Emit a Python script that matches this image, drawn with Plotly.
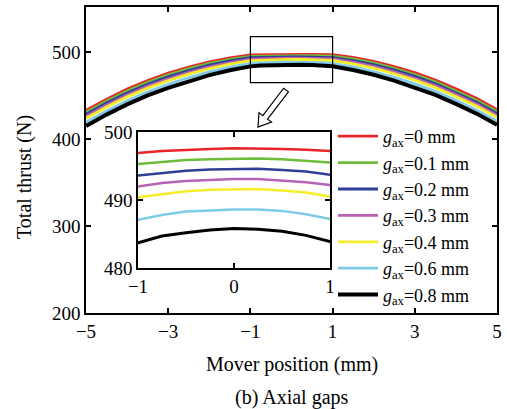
import plotly.graph_objects as go

# ---------------- data ----------------
positions = [-5, -4.5, -4, -3.5, -3, -2.5, -2, -1.5, -1, -0.75, -0.5, -0.25, 0,
             0.25, 0.5, 0.75, 1, 1.5, 2, 2.5, 3, 3.5, 4, 4.5, 5]

gap_0mm = [433.0, 446.0, 457.5, 467.5, 476.0, 483.0, 489.0, 493.6, 496.9, 497.2, 497.4, 497.5, 497.6,
           497.6, 497.5, 497.4, 497.2, 494.0, 489.5, 483.5, 476.5, 468.0, 458.0, 447.0, 434.0]
gap_01mm = [430.8, 443.8, 455.3, 465.4, 473.9, 481.0, 487.1, 491.8, 495.3, 495.6, 495.9, 496.0, 496.1,
            496.1, 496.0, 495.8, 495.5, 492.2, 487.6, 481.5, 474.4, 465.9, 455.8, 444.8, 431.8]
gap_02mm = [428.4, 441.5, 453.0, 463.1, 471.7, 478.9, 485.1, 489.9, 493.6, 494.0, 494.3, 494.5, 494.6,
            494.6, 494.4, 494.2, 493.7, 490.3, 485.6, 479.4, 472.2, 463.6, 453.5, 442.5, 429.5]
gap_03mm = [426.2, 439.2, 450.8, 461.0, 469.5, 476.8, 483.1, 488.1, 492.0, 492.5, 492.8, 493.0, 493.1,
            493.1, 492.9, 492.6, 492.2, 488.5, 483.6, 477.3, 470.0, 461.5, 451.3, 440.3, 427.3]
gap_04mm = [423.8, 436.9, 448.6, 458.7, 467.3, 474.7, 481.1, 486.3, 490.4, 490.9, 491.3, 491.5, 491.6,
            491.6, 491.4, 491.1, 490.5, 486.7, 481.6, 475.2, 467.8, 459.2, 449.1, 438.0, 425.1]
gap_06mm = [419.3, 432.5, 444.2, 454.4, 463.1, 470.7, 477.3, 482.7, 487.1, 487.8, 488.3, 488.5, 488.6,
            488.6, 488.4, 487.9, 487.2, 483.1, 477.8, 471.2, 463.6, 454.9, 444.7, 433.6, 420.7]
gap_08mm = [415.0, 428.2, 440.0, 450.3, 459.0, 466.8, 473.6, 479.2, 483.7, 484.7, 485.2, 485.6, 485.8,
            485.7, 485.4, 484.8, 483.9, 479.6, 474.1, 467.3, 459.5, 450.8, 440.5, 429.4, 416.5]

series_labels = ["0", "0.1", "0.2", "0.3", "0.4", "0.6", "0.8"]
series_values = [gap_0mm, gap_01mm, gap_02mm, gap_03mm, gap_04mm, gap_06mm, gap_08mm]
series_colors = ["#e8262a", "#6dbd3b", "#2e3f96", "#b862b3", "#f6ee2a", "#7fcbe8", "#000000"]
series_widths = [2.8, 2.8, 2.8, 2.8, 2.8, 2.8, 4]

main_xticks = [-5, -3, -1, 1, 3, 5]
main_yticks = [200, 300, 400, 500]
inset_xticks = [-1, 0, 1]
inset_yticks = [480, 490, 500]

# ---------------- geometry ----------------
W, H = 507, 409
ML, MR, MT, MB = 86, 10, 7, 96
PW, PH = W - ML - MR, H - MT - MB


def px(x):
    return (x - ML) / PW


def py(y):
    return (H - MB - y) / PH


FONT = "Liberation Serif"
FS = 19

fig = go.Figure()

for lab, vals, col, lw in zip(series_labels, series_values, series_colors, series_widths):
    fig.add_trace(go.Scatter(
        x=positions, y=vals, mode="lines", line=dict(color=col, width=lw),
        name="<i>g</i><sub>ax</sub>=" + lab + " mm", xaxis="x", yaxis="y"))

for lab, vals, col, lw in zip(series_labels, series_values, series_colors, series_widths):
    fig.add_trace(go.Scatter(
        x=positions, y=vals, mode="lines", line=dict(color=col, width=2.5 if lw < 3 else 3),
        showlegend=False, xaxis="x2", yaxis="y2"))

axis_common = dict(showline=True, linecolor="black", linewidth=1.5, mirror="ticks",
                   ticks="inside", ticklen=5, tickcolor="black", tickwidth=1.5,
                   showgrid=False, zeroline=False, automargin=False,
                   tickfont=dict(family=FONT, size=FS, color="black"))

fig.update_layout(
    width=W, height=H,
    margin=dict(l=ML, r=MR, t=MT, b=MB, autoexpand=False),
    paper_bgcolor="white", plot_bgcolor="white",
    font=dict(family=FONT, size=FS, color="black"),
    xaxis=dict(domain=[0, 1], range=[-5, 5], tickvals=main_xticks, **axis_common),
    yaxis=dict(domain=[0, 1], range=[200, 552], tickvals=main_yticks, **axis_common),
    xaxis2=dict(domain=[px(138), px(330)], range=[-1, 1], tickvals=inset_xticks,
                anchor="y2", **axis_common),
    yaxis2=dict(domain=[py(268), py(132)], range=[480, 500], tickvals=inset_yticks,
                anchor="x2", **axis_common),
    showlegend=True,
    legend=dict(x=px(333), y=py(118), xanchor="left", yanchor="top",
                bgcolor="rgba(255,255,255,0)", borderwidth=0,
                font=dict(family=FONT, size=18, color="black"),
                tracegroupgap=0, itemwidth=40),
)

# zoom box on main axes
fig.add_shape(type="rect", xref="x", yref="y", x0=-1, x1=1, y0=465, y1=518,
              line=dict(color="black", width=1.2), fillcolor="rgba(0,0,0,0)")

# hollow arrow (pixel geometry -> paper)
arrow_px = [(288.4, 91.8), (267.6, 119.2), (271.5, 122.1), (258, 127),
            (259.0, 112.6), (262.8, 115.6), (283.6, 88.2)]
path = "M " + " L ".join(f"{px(a):.4f},{py(b):.4f}" for a, b in arrow_px) + " Z"
fig.add_shape(type="path", xref="paper", yref="paper", path=path,
              line=dict(color="black", width=1.2), fillcolor="white")

fig.add_annotation(text="Mover position (mm)", xref="paper", yref="paper",
                   x=px(292), y=py(364), showarrow=False, xanchor="center", yanchor="middle",
                   font=dict(family=FONT, size=FS + 1, color="black"))
fig.add_annotation(text="(b) Axial gaps", xref="paper", yref="paper",
                   x=px(292), y=py(397), showarrow=False, xanchor="center", yanchor="middle",
                   font=dict(family=FONT, size=FS + 1, color="black"))
fig.add_annotation(text="Total thrust (N)", xref="paper", yref="paper",
                   x=px(24), y=py(177), showarrow=False, xanchor="center", yanchor="middle",
                   textangle=-90, font=dict(family=FONT, size=FS + 1, color="black"))

fig.write_html("out.html", config={"displayModeBar": False},
               post_script="document.body.style.margin='0';")
